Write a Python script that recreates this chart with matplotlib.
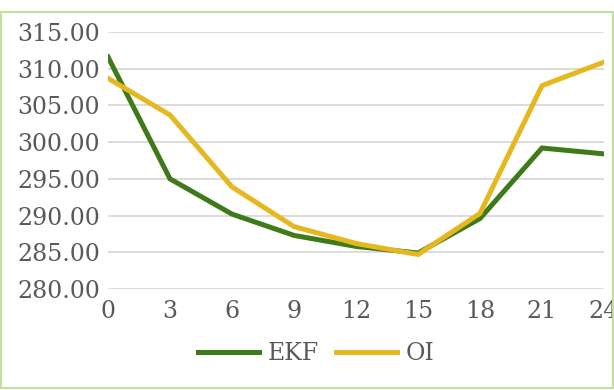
import matplotlib
matplotlib.use("Agg")
import matplotlib.pyplot as plt
from matplotlib.patches import Rectangle

hours = [0, 3, 6, 9, 12, 15, 18, 21, 24]
ekf = [311.6, 295.0, 290.2, 287.3, 285.8, 284.9, 289.6, 299.2, 298.4]
oi = [308.7, 303.7, 293.9, 288.5, 286.2, 284.7, 290.3, 307.7, 310.9]
y_ticks = [280, 285, 290, 295, 300, 305, 310, 315]

text_color = "#595959"
plt.rcParams["font.family"] = ["DejaVu Serif"]

W, H = 614, 390
fig = plt.figure(figsize=(W / 100, H / 100), dpi=100)
ax = fig.add_axes([108 / W, 1 - 289 / H, (604 - 108) / W, (289 - 32) / H])

ax.plot(hours, ekf, color="#3f7a1a", lw=3.6, label="EKF", solid_joinstyle="miter", zorder=3)
ax.plot(hours, oi, color="#e6b820", lw=3.6, label="OI", solid_joinstyle="miter", zorder=3)

ax.set_xlim(0, 24)
ax.set_ylim(280, 315)
ax.set_xticks(hours)
ax.set_yticks(y_ticks)
ax.set_yticklabels([f"{v:.2f}" for v in y_ticks])
ax.grid(axis="y", color="#d9d9d9", lw=1.3)
ax.set_axisbelow(True)
for s in ax.spines.values():
    s.set_visible(False)
ax.tick_params(length=0, labelsize=17, colors=text_color)
ax.tick_params(axis="y", pad=5.5)
ax.tick_params(axis="x", pad=8)
for lbl in ax.get_xticklabels():
    lbl.set_clip_on(False)

leg = ax.legend(loc="center", bbox_to_anchor=(316 / W, 1 - 354 / H),
                bbox_transform=fig.transFigure, ncol=2, frameon=False,
                fontsize=17, handlelength=2.6, columnspacing=0.7,
                handletextpad=0.35, borderpad=0, borderaxespad=0)
for t in leg.get_texts():
    t.set_color(text_color)

fig.patches.append(Rectangle((0.5 / W, 2 / H), 612.5 / W, 376 / H,
                             transform=fig.transFigure, fill=False,
                             edgecolor="#c3e09a", lw=1.5))

fig.savefig("out.png", dpi=100, facecolor="white")
